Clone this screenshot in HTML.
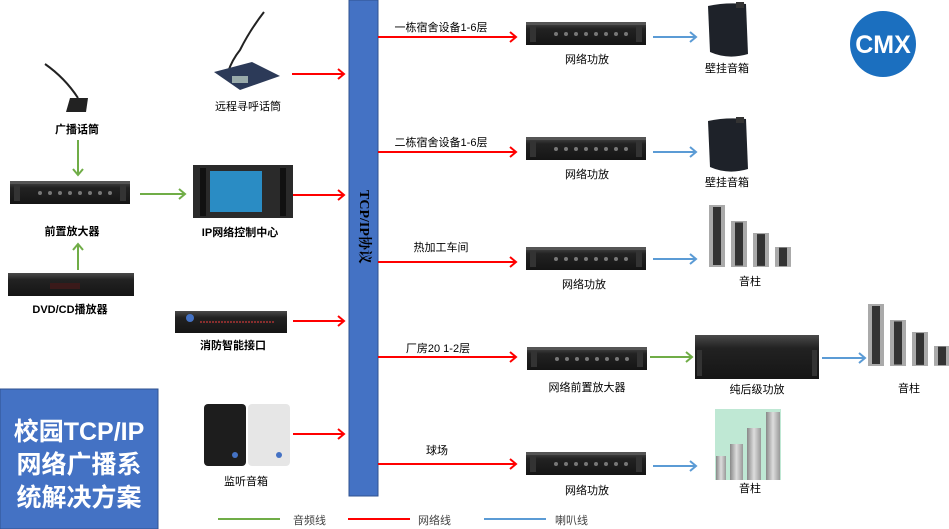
<!DOCTYPE html>
<html><head><meta charset="utf-8"><style>
html,body{margin:0;padding:0;background:#fff;}
svg{display:block;}
text{font-family:"Liberation Sans","Noto Sans CJK SC",sans-serif;fill:#000;}
.l{font-size:11px;}
.b{font-size:11px;font-weight:bold;}
</style></head><body>
<svg width="949" height="529" viewBox="0 0 949 529" xmlns="http://www.w3.org/2000/svg">
<defs>
<linearGradient id="dk" x1="0" y1="0" x2="0" y2="1"><stop offset="0" stop-color="#4a4a4a"/><stop offset="0.3" stop-color="#222"/><stop offset="1" stop-color="#151515"/></linearGradient>
<linearGradient id="wc" x1="0" y1="0" x2="1" y2="0"><stop offset="0" stop-color="#888"/><stop offset="0.5" stop-color="#ddd"/><stop offset="1" stop-color="#999"/></linearGradient>
<g id="amp"><rect x="0" y="0" width="120" height="23" fill="url(#dk)"/><rect x="0" y="0" width="120" height="3" fill="#555"/><rect x="4" y="4" width="6" height="16" fill="#333"/><rect x="110" y="4" width="6" height="16" fill="#333"/><g fill="#777"><circle cx="30" cy="12" r="2"/><circle cx="40" cy="12" r="2"/><circle cx="50" cy="12" r="2"/><circle cx="60" cy="12" r="2"/><circle cx="70" cy="12" r="2"/><circle cx="80" cy="12" r="2"/><circle cx="90" cy="12" r="2"/><circle cx="100" cy="12" r="2"/></g></g>
<g id="c1"><rect x="0" y="0" width="16" height="62" fill="#aaa"/><rect x="4" y="2" width="8" height="58" fill="#333"/></g>
<g id="cols"><use href="#c1"/><g transform="translate(22,16) scale(1,0.742)"><use href="#c1"/></g><g transform="translate(44,28) scale(1,0.548)"><use href="#c1"/></g><g transform="translate(66,42) scale(1,0.32)"><use href="#c1"/></g></g>
<g id="wall"><path d="M2 4 Q20 0 40 2 L42 52 Q22 58 4 50 Z" fill="#1e2229"/><rect x="30" y="0" width="8" height="6" fill="#333"/></g>
</defs>

<rect x="349" y="0" width="29" height="496" fill="#4472c4" stroke="#2f528f" stroke-width="1"/>
<text transform="translate(360,190) rotate(90)" style="font-family:'Liberation Serif','Noto Serif CJK SC',serif;font-size:14px;font-weight:bold">TCP/IP协议</text>

<rect x="0" y="389" width="158" height="140" fill="#4472c4" stroke="#2f528f"/>
<text x="79" y="440" text-anchor="middle" style="font-size:25px;font-weight:bold;fill:#fff">校园TCP/IP</text>
<text x="79" y="473" text-anchor="middle" style="font-size:25px;font-weight:bold;fill:#fff">网络广播系</text>
<text x="79" y="506" text-anchor="middle" style="font-size:25px;font-weight:bold;fill:#fff">统解决方案</text>

<circle cx="883" cy="44" r="33" fill="#1b6fbf"/>
<text x="883" y="53" text-anchor="middle" style="font-size:25px;font-weight:bold;fill:#fff">CMX</text>

<path d="M45 64 Q65 78 78 98" stroke="#222" stroke-width="2" fill="none"/>
<path d="M70 98 L88 98 L86 112 L66 112 Z" fill="#222"/>
<text x="77" y="133" text-anchor="middle" class="b">广播话筒</text>
<use href="#amp" x="10" y="181"/>
<text x="72" y="235" text-anchor="middle" class="b">前置放大器</text>
<rect x="8" y="273" width="126" height="23" fill="url(#dk)"/><rect x="50" y="283" width="30" height="6" fill="#3a1a1a"/>
<text x="70" y="313" text-anchor="middle" class="b">DVD/CD播放器</text>

<path d="M264 12 Q250 30 240 50 Q232 60 228 72" stroke="#222" stroke-width="2" fill="none"/>
<path d="M214 72 L252 62 L280 76 L240 90 Z" fill="#2c3a58"/>
<rect x="232" y="76" width="16" height="7" fill="#9aa"/>
<text x="248" y="110" text-anchor="middle" class="l">远程寻呼话筒</text>

<rect x="193" y="165" width="100" height="53" fill="#2a2a2a"/>
<rect x="210" y="171" width="52" height="41" fill="#2a8cc4"/>
<rect x="200" y="168" width="6" height="48" fill="#111"/><rect x="280" y="168" width="6" height="48" fill="#111"/>
<text x="240" y="236" text-anchor="middle" class="b">IP网络控制中心</text>

<rect x="175" y="311" width="112" height="22" fill="url(#dk)"/>
<circle cx="190" cy="318" r="4" fill="#4472c4"/>
<line x1="200" y1="322" x2="275" y2="322" stroke="#a33" stroke-width="1.5" stroke-dasharray="2 1"/>
<text x="233" y="349" text-anchor="middle" class="b">消防智能接口</text>

<rect x="204" y="404" width="42" height="62" rx="4" fill="#1d1d1d"/>
<rect x="248" y="404" width="42" height="62" rx="4" fill="#e6e6e6"/>
<circle cx="235" cy="455" r="3" fill="#4472c4"/><circle cx="279" cy="455" r="3" fill="#4472c4"/>
<text x="246" y="485" text-anchor="middle" class="l">监听音箱</text>

<g stroke="#70ad47" stroke-width="2" fill="none">
<line x1="78" y1="140" x2="78" y2="175"/><polyline points="73,169 78,175 83,169"/>
<line x1="78" y1="270" x2="78" y2="244"/><polyline points="73,250 78,244 83,250"/>
<line x1="140" y1="194" x2="185" y2="194"/><polyline points="179,189 185,194 179,199"/>
<line x1="650" y1="357" x2="692" y2="357"/><polyline points="686,352 692,357 686,362"/>
</g>

<g stroke="#ff0000" stroke-width="2" fill="none">
<line x1="292" y1="74" x2="344" y2="74"/><polyline points="338,69 344,74 338,79"/>
<line x1="293" y1="195" x2="344" y2="195"/><polyline points="338,190 344,195 338,200"/>
<line x1="293" y1="321" x2="344" y2="321"/><polyline points="338,316 344,321 338,326"/>
<line x1="293" y1="434" x2="344" y2="434"/><polyline points="338,429 344,434 338,439"/>
<line x1="378" y1="37" x2="516" y2="37"/><polyline points="510,32 516,37 510,42"/>
<line x1="378" y1="152" x2="516" y2="152"/><polyline points="510,147 516,152 510,157"/>
<line x1="378" y1="262" x2="516" y2="262"/><polyline points="510,257 516,262 510,267"/>
<line x1="378" y1="357" x2="516" y2="357"/><polyline points="510,352 516,357 510,362"/>
<line x1="378" y1="464" x2="516" y2="464"/><polyline points="510,459 516,464 510,469"/>
</g>
<text x="441" y="31" text-anchor="middle" class="l">一栋宿舍设备1-6层</text>
<text x="441" y="146" text-anchor="middle" class="l">二栋宿舍设备1-6层</text>
<text x="441" y="251" text-anchor="middle" class="l">热加工车间</text>
<text x="438" y="352" text-anchor="middle" class="l">厂房20 1-2层</text>
<text x="437" y="454" text-anchor="middle" class="l">球场</text>

<use href="#amp" x="526" y="22"/>
<text x="587" y="63" text-anchor="middle" class="l">网络功放</text>
<use href="#amp" x="526" y="137"/>
<text x="587" y="178" text-anchor="middle" class="l">网络功放</text>
<use href="#amp" x="526" y="247"/>
<text x="584" y="288" text-anchor="middle" class="l">网络功放</text>
<use href="#amp" x="527" y="347"/>
<text x="587" y="391" text-anchor="middle" class="l">网络前置放大器</text>
<use href="#amp" x="526" y="452"/>
<text x="587" y="494" text-anchor="middle" class="l">网络功放</text>

<rect x="695" y="335" width="124" height="44" fill="url(#dk)"/>
<rect x="697" y="350" width="5" height="26" fill="#333"/><rect x="812" y="350" width="5" height="26" fill="#333"/>
<text x="757" y="393" text-anchor="middle" class="l">纯后级功放</text>

<g stroke="#5b9bd5" stroke-width="2" fill="none">
<line x1="653" y1="37" x2="696" y2="37"/><polyline points="690,32 696,37 690,42"/>
<line x1="653" y1="152" x2="696" y2="152"/><polyline points="690,147 696,152 690,157"/>
<line x1="653" y1="259" x2="696" y2="259"/><polyline points="690,254 696,259 690,264"/>
<line x1="822" y1="358" x2="865" y2="358"/><polyline points="859,353 865,358 859,363"/>
<line x1="653" y1="466" x2="696" y2="466"/><polyline points="690,461 696,466 690,471"/>
</g>

<use href="#wall" x="706" y="2"/>
<text x="727" y="72" text-anchor="middle" class="l">壁挂音箱</text>
<use href="#wall" x="706" y="117"/>
<text x="727" y="186" text-anchor="middle" class="l">壁挂音箱</text>
<use href="#cols" x="709" y="205"/>
<text x="750" y="285" text-anchor="middle" class="l">音柱</text>
<use href="#cols" x="868" y="304"/>
<text x="909" y="392" text-anchor="middle" class="l">音柱</text>
<rect x="715" y="409" width="66" height="71" fill="#bfe8d4"/>
<rect x="716" y="456" width="10" height="24" fill="url(#wc)"/>
<rect x="730" y="444" width="13" height="36" fill="url(#wc)"/>
<rect x="747" y="428" width="14" height="52" fill="url(#wc)"/>
<rect x="766" y="412" width="14" height="68" fill="url(#wc)"/>
<text x="750" y="492" text-anchor="middle" class="l">音柱</text>

<line x1="218" y1="519" x2="280" y2="519" stroke="#70ad47" stroke-width="2"/>
<text x="293" y="524" class="l" style="fill:#444">音频线</text>
<line x1="348" y1="519" x2="410" y2="519" stroke="#ff0000" stroke-width="2"/>
<text x="418" y="524" class="l" style="fill:#444">网络线</text>
<line x1="484" y1="519" x2="546" y2="519" stroke="#5b9bd5" stroke-width="2"/>
<text x="555" y="524" class="l" style="fill:#444">喇叭线</text>
</svg>
</body></html>
